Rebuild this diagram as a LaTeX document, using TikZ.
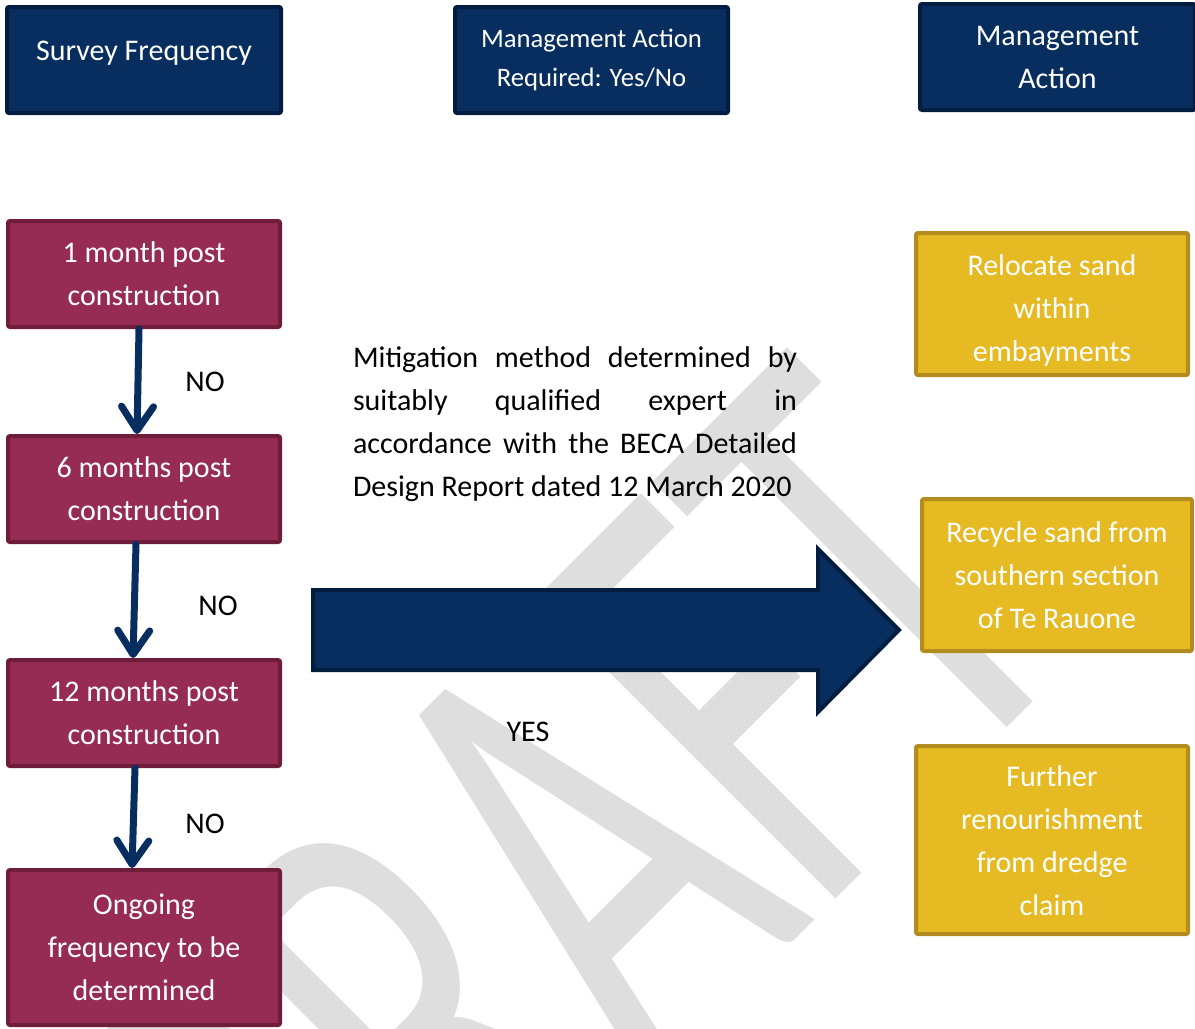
\documentclass[tikz,border=0pt]{standalone}
\usepackage{fontspec}
\usepackage{graphicx}
\setmainfont{Carlito}
\usetikzlibrary{arrows.meta}

\definecolor{navy}{RGB}{7,46,94}
\definecolor{navyedge}{RGB}{3,29,64}
\definecolor{wine}{RGB}{150,43,83}
\definecolor{wineedge}{RGB}{112,29,60}
\definecolor{gold}{RGB}{229,186,34}
\definecolor{goldedge}{RGB}{178,140,30}
\definecolor{wmark}{RGB}{222,222,222}

% centred lines, moved up or down inside their box
\newcommand\boxlines[2]{\raisebox{#1}[\height][\depth]{\begin{tabular}{@{}c@{}}#2\end{tabular}}}

\begin{document}
\begin{tikzpicture}[x=0.75pt,y=-0.75pt,
  box/.style={rectangle, rounded corners=1.5pt, line width=3pt, inner sep=0pt,
    align=center, text=white, font=\fontsize{22.5}{32.25}\selectfont},
  hdr/.style={box, fill=navy, draw=navyedge, minimum height=79.5pt},
  stage/.style={box, fill=wine, draw=wineedge, minimum width=204pt},
  action/.style={box, fill=gold, draw=goldedge},
  flow/.style={navy, line width=5.25pt, line cap=round,
    -{Straight Barb[length=18pt, width=24pt, round]}},
  lbl/.style={inner sep=0pt, text=black, font=\fontsize{22.5}{32.25}\selectfont}
]
\path[use as bounding box] (0,0) rectangle (1195,1028);
\clip (0,0) rectangle (1195,1028);

% watermark behind everything
\node[wmark, rotate=45, anchor=base west, inner sep=0pt] (wm) at (313,1422)
  {\scalebox{0.62}[1]{\fontsize{496}{496}\selectfont DRAFT}};

% column headers
\node[hdr, minimum width=205.5pt] (h1) at (144,60)
  {\raisebox{5.25pt}[\height][\depth]{Survey Frequency}};
\node[hdr, minimum width=204.75pt, font=\fontsize{20}{29.25}\selectfont] (h2) at (591.5,60)
  {Management Action\\Required: Yes/No};
\node[hdr, minimum width=206.25pt] (h3) at (1057.5,57)
  {Management\\Action};

% survey stages
\node[stage, minimum height=79.5pt] (s1) at (144,274) {1 month post\\construction};
\node[stage, minimum height=79.5pt] (s2) at (144,489) {6 months post\\construction};
\node[stage, minimum height=79.5pt] (s3) at (144,713) {12 months post\\construction};
\node[stage, minimum height=116.25pt] (s4) at (144,947.5) {Ongoing\\frequency to be\\determined};

\draw[flow] ([xshift=-3.75pt]s1.south) -- ([xshift=-5.25pt]s2.north);
\draw[flow] ([xshift=-6pt]s2.south) -- ([xshift=-8.25pt]s3.north);
\draw[flow] ([xshift=-6.75pt]s3.south) -- ([xshift=-9pt]s4.north);

\node[lbl] (no1) at (205,382) {NO};
\node[lbl] (no2) at (218,606) {NO};
\node[lbl] (no3) at (205,824) {NO};

% management actions
\node[action, minimum width=204pt, minimum height=106.5pt] (a1) at (1052,304)
  {\boxlines{-4.5pt}{Relocate sand\\within\\embayments}};
\node[action, minimum width=202.5pt, minimum height=114pt] (a2) at (1057,575)
  {Recycle sand from\\southern section\\of Te Rauone};
\node[action, minimum width=204pt, minimum height=141pt] (a3) at (1052,840)
  {\boxlines{-2pt}{Further\\renourishment\\from dredge\\claim}};

% explanatory text and YES branch
\node[lbl, text width=333pt, align=justify] (note) at (575,424)
  {Mitigation method determined by\linebreak suitably qualified expert in\linebreak
   accordance with the BECA Detailed\linebreak Design Report dated 12 March 2020};

\draw[fill=navy, draw=navyedge, line width=3pt, line join=miter]
  (313,590) -- (818,590) -- (818,549) -- (899,630) -- (818,712) -- (818,670) -- (313,670) -- cycle;

\node[lbl] (yes) at (528,732) {YES};
\end{tikzpicture}
\end{document}
